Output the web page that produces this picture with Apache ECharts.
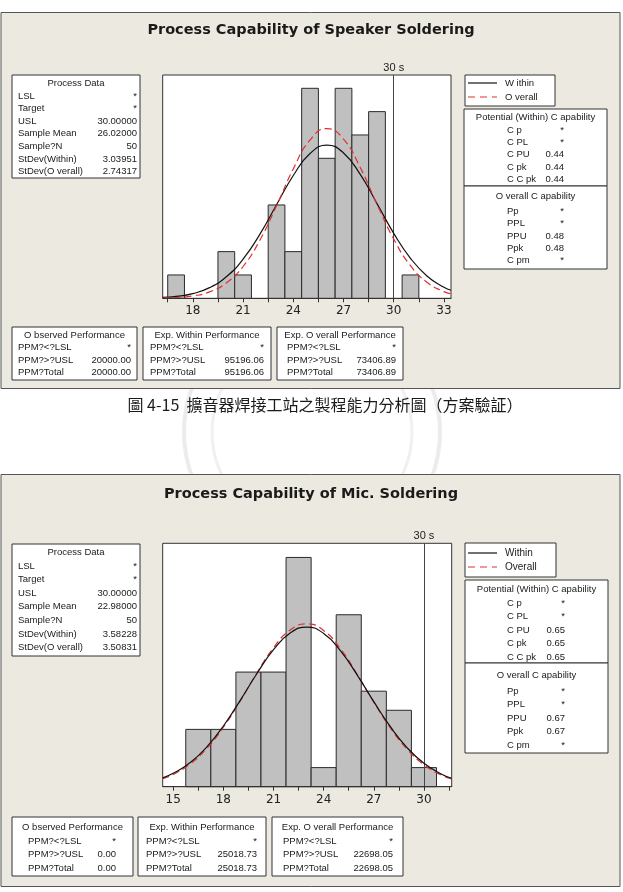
<!DOCTYPE html>
<html>
<head>
<meta charset="utf-8">
<script src="https://cdn.jsdelivr.net/npm/echarts@6/dist/echarts.min.js"></script>
<style>
  html, body { margin: 0; padding: 0; background: #fff; }
  #main { width: 623px; height: 892px; }
</style>
</head>
<body>
<div id="main"></div>
<script>
// ---- Speaker soldering (top chart) ----
const spkBinWidth = 1;
const spkBins = [17, 20, 21, 23, 24, 25, 26, 27, 28, 29, 31];
const spkCounts = [1, 2, 1, 4, 2, 9, 6, 9, 7, 8, 1];
const spkCurveX = [16.2, 17, 18, 19, 20, 21, 22, 23, 24, 25, 26, 27, 28, 29, 30, 31, 32, 33, 33.42];
const spkWithin = [0.036, 0.080, 0.202, 0.456, 0.923, 1.678, 2.737, 4.006, 5.263, 6.204, 6.563, 6.230, 5.308, 4.059, 2.785, 1.715, 0.948, 0.470, 0.344];
const spkOverall = [0.012, 0.033, 0.101, 0.275, 0.654, 1.363, 2.485, 3.967, 5.545, 6.786, 7.272, 6.823, 5.605, 4.031, 2.538, 1.399, 0.676, 0.286, 0.195];
const spkTickLabels = [18, 21, 24, 27, 30, 33];
const spkTicks = [16.5, 18, 19.5, 21, 22.5, 24, 25.5, 27, 28.5, 30, 31.5, 33];

// ---- Mic soldering (bottom chart) ----
const micBinWidth = 1.5;
const micBins = [16.5, 18, 19.5, 21, 22.5, 24, 25.5, 27, 28.5, 30];
const micCounts = [3, 3, 6, 6, 12, 1, 9, 5, 4, 1];
const micCurveX = [14.37, 15, 16, 17, 18, 19, 20, 21, 22, 23, 24, 25, 26, 27, 28, 29, 30, 31, 31.66];
const micWithin = [0.465, 0.699, 1.251, 2.074, 3.178, 4.506, 5.910, 7.170, 8.046, 8.353, 8.022, 7.125, 5.855, 4.451, 3.129, 2.035, 1.225, 0.682, 0.444];
const micOverall = [0.420, 0.642, 1.179, 1.995, 3.114, 4.482, 5.946, 7.273, 8.203, 8.529, 8.176, 7.226, 5.888, 4.424, 3.064, 1.957, 1.152, 0.625, 0.400];
const micTickLabels = [15, 18, 21, 24, 27, 30];
const micTicks = [15, 16.5, 18, 19.5, 21, 22.5, 24, 25.5, 27, 28.5, 30, 31.5];

const usl = 30;

// text tables
const dataLabels = ['LSL', 'Target', 'USL', 'Sample Mean', 'Sample?N', 'StDev(Within)', 'StDev(O verall)'];
const spkDataValues = ['*', '*', '30.00000', '26.02000', '50', '3.03951', '2.74317'];
const micDataValues = ['*', '*', '30.00000', '22.98000', '50', '3.58228', '3.50831'];
const potLabels = ['C p', 'C PL', 'C PU', 'C pk', 'C C pk'];
const spkPotValues = ['*', '*', '0.44', '0.44', '0.44'];
const micPotValues = ['*', '*', '0.65', '0.65', '0.65'];
const ovLabels = ['Pp', 'PPL', 'PPU', 'Ppk', 'C pm'];
const spkOvValues = ['*', '*', '0.48', '0.48', '*'];
const micOvValues = ['*', '*', '0.67', '0.67', '*'];
const perfLabels = ['PPM?<?LSL', 'PPM?>?USL', 'PPM?Total'];
const spkObserved = ['*', '20000.00', '20000.00'];
const spkExpWithin = ['*', '95196.06', '95196.06'];
const spkExpOverall = ['*', '73406.89', '73406.89'];
const micObserved = ['*', '0.00', '0.00'];
const micExpWithin = ['*', '25018.73', '25018.73'];
const micExpOverall = ['*', '22698.05', '22698.05'];

const FONT = '"Liberation Sans", Arial, sans-serif';
const g = [];

function rect(x, y, w, h, fill, stroke, z) {
  g.push({ type: 'rect', z: z, silent: true, shape: { x: x, y: y, width: w, height: h },
    style: { fill: fill, stroke: stroke, lineWidth: 1 } });
}
function txt(x, y, s, align, size, weight, family) {
  g.push({ type: 'text', z: 20, silent: true, x: x, y: y,
    style: { text: s, fill: '#1a1a1a', textAlign: align || 'left', textVerticalAlign: 'middle', verticalAlign: 'middle',
      font: (weight || 'normal') + ' ' + (size || 9.5) + 'px ' + (family || FONT) } });
}
function hline(x1, x2, y, color, dash) {
  g.push({ type: 'line', z: 20, silent: true, shape: { x1: x1, y1: y, x2: x2, y2: y },
    style: { stroke: color, lineWidth: 1.2, lineDash: dash || null } });
}
// a box with a centred title and label/value rows
function table(x, y, w, h, title, labels, values, lx, vx, ty, y0, dy) {
  rect(x, y, w, h, '#fff', '#333', 5);
  txt(x + w / 2, ty, title, 'center');
  labels.forEach(function (l, i) {
    txt(lx, y0 + i * dy, l, 'left');
    txt(vx, y0 + i * dy, values[i], 'right');
  });
}

// faint seal watermark behind everything
g.push({ type: 'circle', z: -20, silent: true, shape: { cx: 312, cy: 432, r: 128 },
  style: { fill: 'none', stroke: '#ececec', lineWidth: 4 } });
g.push({ type: 'circle', z: -20, silent: true, shape: { cx: 312, cy: 432, r: 100 },
  style: { fill: 'none', stroke: '#f0f0f0', lineWidth: 3 } });

// panels
rect(1, 12.5, 619, 376, '#ECE9E1', '#555', -10);
rect(1, 474.5, 619, 412, '#ECE9E1', '#555', -10);

// titles
txt(311, 30, 'Process Capability of Speaker Soldering', 'center', 14.5, 'bold', '"DejaVu Sans", sans-serif');
txt(311, 494, 'Process Capability of Mic. Soldering', 'center', 14.5, 'bold', '"DejaVu Sans", sans-serif');
txt(325, 405, '圖 4-15  擴音器焊接工站之製程能力分析圖（方案驗証）', 'center', 16, 'normal', '"Noto Sans CJK TC", sans-serif');

// ---- top chart boxes ----
table(12, 75, 128, 103, 'Process Data', dataLabels, spkDataValues, 18, 137, 83.5, 96, 12.6);
rect(465, 75, 90, 31, '#fff', '#333', 5);
hline(468, 497, 83, '#111');
hline(468, 497, 97, '#e0302c', [7, 5]);
txt(505, 83, 'W ithin', 'left');
txt(505, 97, 'O verall', 'left');
table(464, 109, 143, 77, 'Potential (Within) C apability', potLabels, spkPotValues, 507, 564, 117.5, 130, 12.3);
table(464, 186, 143, 83, 'O verall C apability', ovLabels, spkOvValues, 507, 564, 196, 211.5, 12.2);
table(12, 327, 125, 53, 'O bserved Performance', perfLabels, spkObserved, 18, 131, 335, 347.5, 12.4);
table(143, 327, 128, 53, 'Exp. Within Performance', perfLabels, spkExpWithin, 150, 264, 335, 347.5, 12.4);
table(277, 327, 126, 53, 'Exp. O verall Performance', perfLabels, spkExpOverall, 287, 396, 335, 347.5, 12.4);

// ---- bottom chart boxes ----
table(12, 544, 128, 112, 'Process Data', dataLabels, micDataValues, 18, 137, 552.5, 566, 13.6);
rect(465, 543, 91, 34, '#fff', '#333', 5);
hline(468, 497, 553, '#111');
hline(468, 497, 567, '#e0302c', [7, 5]);
txt(505, 553, 'Within', 'left', 10);
txt(505, 567, 'Overall', 'left', 10);
table(465, 580, 143, 83, 'Potential (Within) C apability', potLabels, micPotValues, 507, 565, 589.5, 603, 13.5);
table(465, 663, 143, 90, 'O verall C apability', ovLabels, micOvValues, 507, 565, 675, 691, 13.5);
table(12, 817, 121, 59, 'O bserved Performance', perfLabels, micObserved, 28, 116, 827, 841, 13.5);
table(138, 817, 128, 59, 'Exp. Within Performance', perfLabels, micExpWithin, 146, 257, 827, 841, 13.5);
table(272, 817, 131, 59, 'Exp. O verall Performance', perfLabels, micExpOverall, 283, 393, 827, 841, 13.5);

function pairs(xs, ys) { return xs.map(function (x, i) { return [x, ys[i]]; }); }

function histItem(params, api) {
  const x = api.value(0), c = api.value(1), w = api.value(2);
  const p0 = api.coord([x - w / 2, c]);
  const p1 = api.coord([x + w / 2, 0]);
  return { type: 'rect', shape: { x: p0[0], y: p0[1], width: p1[0] - p0[0], height: p1[1] - p0[1] },
    style: { fill: '#c0c0c0', stroke: '#2a2a2a', lineWidth: 1 } };
}

function xAxis(idx, min, max, ticks, labels) {
  return {
    type: 'value', gridIndex: idx, min: min, max: max, z: 8,
    splitLine: { show: false },
    axisLine: { show: true, lineStyle: { color: '#333' } },
    axisTick: { show: true, customValues: ticks, length: 4, lineStyle: { color: '#333' } },
    axisLabel: { show: true, customValues: labels, color: '#222', fontSize: 12, fontFamily: '"DejaVu Sans", sans-serif', margin: 7 }
  };
}

const uslLine = {
  symbol: ['none', 'none'], silent: true, animation: false,
  lineStyle: { color: '#444', type: 'solid', width: 1 },
  label: { show: true, position: 'end', formatter: '30 s', color: '#222', fontSize: 11, fontFamily: FONT, distance: 2 },
  data: [{ xAxis: usl }]
};

const chart = echarts.init(document.getElementById('main'));
chart.setOption({
  backgroundColor: '#fff',
  animation: false,
  graphic: g,
  grid: [
    { left: 162.7, top: 75, width: 288.3, height: 223.3, show: true, backgroundColor: '#fff', borderColor: '#333', borderWidth: 1 },
    { left: 162.7, top: 543.3, width: 289, height: 243.4, show: true, backgroundColor: '#fff', borderColor: '#333', borderWidth: 1 }
  ],
  xAxis: [
    xAxis(0, 16.2, 33.42, spkTicks, spkTickLabels),
    xAxis(1, 14.37, 31.66, micTicks, micTickLabels)
  ],
  yAxis: [
    { type: 'value', gridIndex: 0, min: 0, max: 9.57, show: false, splitLine: { show: false } },
    { type: 'value', gridIndex: 1, min: 0, max: 12.74, show: false, splitLine: { show: false } }
  ],
  series: [
    { type: 'custom', xAxisIndex: 0, yAxisIndex: 0, renderItem: histItem, z: 4,
      data: spkBins.map(function (b, i) { return [b, spkCounts[i], spkBinWidth]; }) },
    { type: 'line', xAxisIndex: 0, yAxisIndex: 0, data: pairs(spkCurveX, spkWithin), smooth: true, showSymbol: false, z: 6,
      lineStyle: { color: '#111', width: 1.2 }, markLine: uslLine },
    { type: 'line', xAxisIndex: 0, yAxisIndex: 0, data: pairs(spkCurveX, spkOverall), smooth: true, showSymbol: false, z: 6,
      lineStyle: { color: '#e0302c', width: 1.2, type: [7, 4] } },
    { type: 'custom', xAxisIndex: 1, yAxisIndex: 1, renderItem: histItem, z: 4,
      data: micBins.map(function (b, i) { return [b, micCounts[i], micBinWidth]; }) },
    { type: 'line', xAxisIndex: 1, yAxisIndex: 1, data: pairs(micCurveX, micOverall), smooth: true, showSymbol: false, z: 6,
      lineStyle: { color: '#e0302c', width: 1.2, type: [7, 4] } },
    { type: 'line', xAxisIndex: 1, yAxisIndex: 1, data: pairs(micCurveX, micWithin), smooth: true, showSymbol: false, z: 6,
      lineStyle: { color: '#111', width: 1.2 }, markLine: uslLine }
  ]
});
</script>
</body>
</html>
